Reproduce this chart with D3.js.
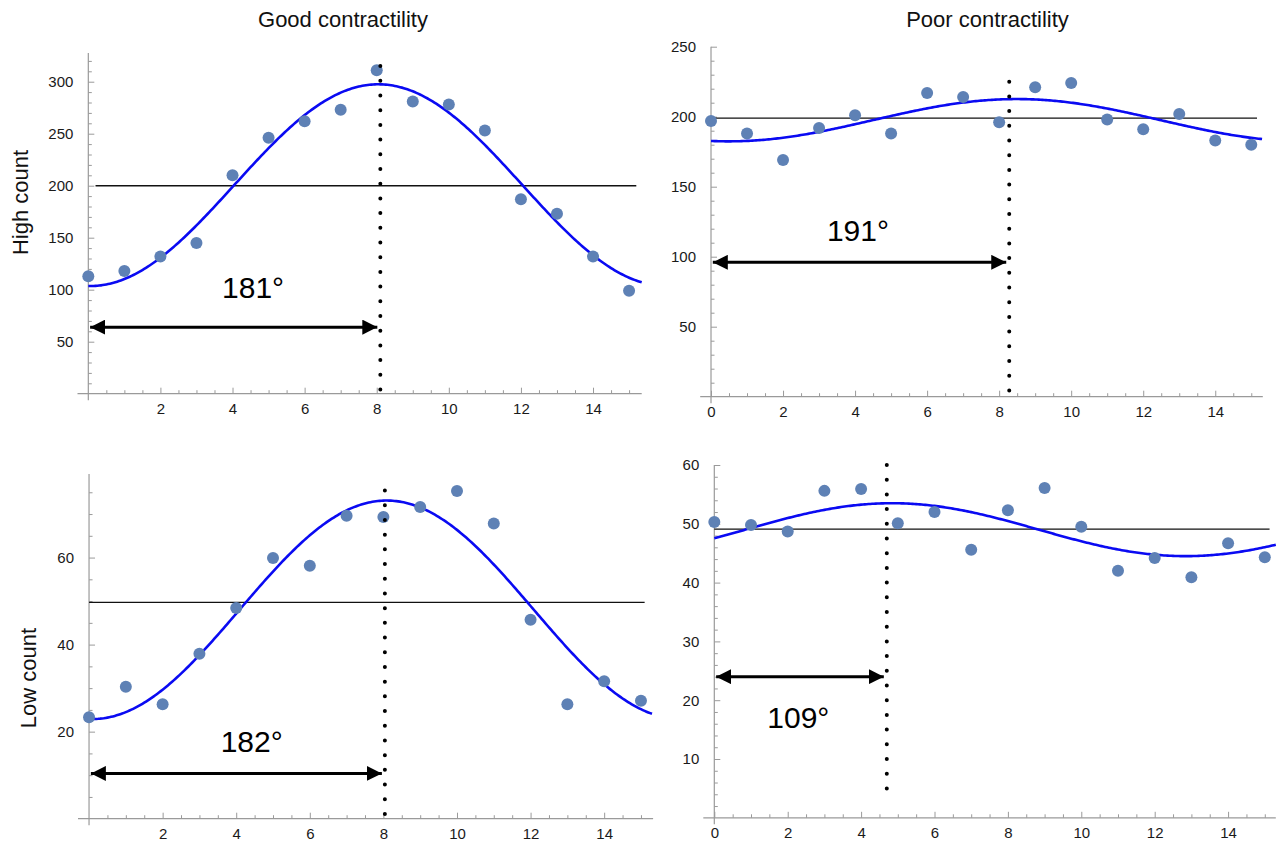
<!DOCTYPE html>
<html>
<head>
<meta charset="utf-8">
<script src="https://cdn.jsdelivr.net/npm/d3@7"></script>
<style>
  html, body { margin: 0; padding: 0; background: #fff; }
  svg { display: block; font-family: "Liberation Sans", Arial, Helvetica, sans-serif; }
</style>
</head>
<body>
<div id="container"></div>
<script>
/* DATA */
const timePoints = [0, 1, 2, 3, 4, 5, 6, 7, 8, 9, 10, 11, 12, 13, 14, 15];

const goodHigh = [113, 118, 132, 145, 210, 246, 262, 273, 311, 281, 278, 253, 187, 173, 132, 99];
const poorHigh = [197, 188, 169, 192, 201, 188, 217, 214, 196, 221, 224, 198, 191, 202, 183, 180];
const goodLow  = [23.3, 30.3, 26.3, 37.9, 48.4, 59.9, 58.1, 69.6, 69.3, 71.6, 75.3, 67.8, 45.7, 26.3, 31.6, 27.1];
const poorLow  = [50.3, 49.8, 48.7, 55.6, 55.9, 50.1, 52.0, 45.6, 52.3, 56.1, 49.5, 42.0, 44.2, 40.9, 46.7, 44.3];

// cosine fit per panel: mesor, amplitude, acrophase (degrees, 16 points = 360°)
const fitMesor = [200.5, 197.5, 48, 49];
const fitAmp   = [97, 15.1, 25.1, 4.5];
const phaseDeg = [181, 191, 182, 109];

// horizontal mean line, dotted peak marker, arrow height
const meanLevel = [200, 199, 49.7, 49.1];
const peakMark  = [8.1, 8.28, 8.04, 4.70];
const peakTop   = [315, 225, 75.4, 60];
const peakBottom = [0, 0, 0, 2.6];
const arrowLevel = [64, 96, 10.4, 24];
const labelPos = [[4.57, 92], [4.08, 111], [4.42, 15.4], [2.29, 15.2]];

// tick labels
const xMajorLeft  = [2, 4, 6, 8, 10, 12, 14];
const xMajorRight = [0, 2, 4, 6, 8, 10, 12, 14];
const yMajorGoodHigh = [50, 100, 150, 200, 250, 300];
const yMajorPoorHigh = [50, 100, 150, 200, 250];
const yMajorGoodLow  = [20, 40, 60];
const yMajorPoorLow  = [10, 20, 30, 40, 50, 60];

const colTitles = ["Good contractility", "Poor contractility"];
const rowTitles = ["High count", "Low count"];

/* LAYOUT */
const width = 1277, height = 843;
const period = 16;

const panels = [
  { values: goodHigh, xMajor: xMajorLeft,  yMajor: yMajorGoodHigh, yMinorStep: 10, yMax: 327.6,
    xRange: [77.5, 641.7], yRange: [393.7, 53], xMax: 15.35, meanEnd: 15.2, meanStart: 0.2 },
  { values: poorHigh, xMajor: xMajorRight, yMajor: yMajorPoorHigh, yMinorStep: 10, yMax: 250,
    xRange: [700.2, 1262.8], yRange: [396.7, 46.7], xMax: 15.32, meanEnd: 15.16, meanStart: 0 },
  { values: goodLow,  xMajor: xMajorLeft,  yMajor: yMajorGoodLow,  yMinorStep: 5, yMax: 79.2,
    xRange: [78, 653.1], yRange: [818.7, 474], xMax: 15.33, meanEnd: 15.1, meanStart: 0 },
  { values: poorLow,  xMajor: xMajorRight, yMajor: yMajorPoorLow,  yMinorStep: 2, yMax: 60,
    xRange: [703.3, 1275.8], yRange: [817.8, 465], xMax: 15.3, meanEnd: 15.13, meanStart: 0 }
];

const svg = d3.select("#container")
  .append("svg")
  .attr("width", width)
  .attr("height", height);

svg.append("rect").attr("width", width).attr("height", height).attr("fill", "#fff");

// arrow heads
const defs = svg.append("defs");
defs.append("marker")
    .attr("id", "head")
    .attr("viewBox", "0 0 10 10")
    .attr("refX", 10).attr("refY", 5)
    .attr("markerWidth", 5).attr("markerHeight", 5)
    .attr("markerUnits", "strokeWidth")
    .attr("orient", "auto-start-reverse")
  .append("path")
    .attr("d", "M0,0L10,5L0,10Z")
    .attr("fill", "#000");

/* DRAW ONE PANEL */
const drawPanel = (p, i) => {
  const g = svg.append("g");
  const x = d3.scaleLinear().domain([-0.3, p.xMax]).range(p.xRange);
  const y = d3.scaleLinear().domain([0, p.yMax]).range(p.yRange);

  const axisColor = "#9a9a9a";

  // minor x ticks
  const xMinor = d3.range(1, 31).map(d => d / 2).filter(d => !p.xMajor.includes(d));
  g.append("g")
    .attr("transform", `translate(0,${y(0)})`)
    .call(d3.axisBottom(x).tickValues(xMinor).tickSize(-3.5).tickFormat(""))
    .call(a => a.select(".domain").remove())
    .call(a => a.selectAll("line").attr("stroke", axisColor));

  // major x ticks
  g.append("g")
    .attr("transform", `translate(0,${y(0)})`)
    .call(d3.axisBottom(x).tickValues(p.xMajor).tickSize(-6).tickPadding(10).tickFormat(d3.format("d")))
    .call(a => a.select(".domain").remove())
    .call(a => a.selectAll("line").attr("stroke", axisColor))
    .call(a => a.selectAll("text").attr("font-size", 15).attr("fill", "#1a1a1a")
      .attr("font-family", "'Liberation Sans', Arial, sans-serif"));

  // minor y ticks
  const yMinor = d3.range(p.yMinorStep, p.yMax, p.yMinorStep).filter(d => !p.yMajor.includes(d));
  g.append("g")
    .attr("transform", `translate(${x(0)},0)`)
    .call(d3.axisLeft(y).tickValues(yMinor).tickSize(-3.5).tickFormat(""))
    .call(a => a.select(".domain").remove())
    .call(a => a.selectAll("line").attr("stroke", axisColor));

  // major y ticks
  g.append("g")
    .attr("transform", `translate(${x(0)},0)`)
    .call(d3.axisLeft(y).tickValues(p.yMajor).tickSize(-6).tickPadding(15).tickFormat(d3.format("d")))
    .call(a => a.select(".domain").remove())
    .call(a => a.selectAll("line").attr("stroke", axisColor))
    .call(a => a.selectAll("text").attr("font-size", 15).attr("fill", "#1a1a1a")
      .attr("font-family", "'Liberation Sans', Arial, sans-serif"));

  // axis lines
  g.append("line")
    .attr("x1", x(-0.3)).attr("x2", x(p.xMax))
    .attr("y1", y(0)).attr("y2", y(0))
    .attr("stroke", axisColor).attr("stroke-width", 1.2);
  g.append("line")
    .attr("x1", x(0)).attr("x2", x(0))
    .attr("y1", y(p.yMax)).attr("y2", y(0) + 6.5)
    .attr("stroke", axisColor).attr("stroke-width", 1.2);

  // mean line
  g.append("line")
    .attr("x1", x(p.meanStart)).attr("x2", x(p.meanEnd))
    .attr("y1", y(meanLevel[i])).attr("y2", y(meanLevel[i]))
    .attr("stroke", "#111").attr("stroke-width", 1.4);

  // fitted cosine
  const peakX = phaseDeg[i] / 360 * period;
  const fit = d3.range(0, p.xMax + 0.001, 0.05)
    .map(t => [t, fitMesor[i] + fitAmp[i] * Math.cos(2 * Math.PI * (t - peakX) / period)]);
  g.append("path")
    .datum(fit)
    .attr("fill", "none")
    .attr("stroke", "#0a0af2")
    .attr("stroke-width", 2.6)
    .attr("d", d3.line().x(d => x(d[0])).y(d => y(d[1])));

  // data points
  g.selectAll("circle")
    .data(p.values)
    .join("circle")
    .attr("cx", (d, k) => x(timePoints[k]))
    .attr("cy", d => y(d))
    .attr("r", 6)
    .attr("fill", "#5E81B5");

  // dotted peak marker
  g.append("line")
    .attr("x1", x(peakMark[i])).attr("x2", x(peakMark[i]))
    .attr("y1", y(peakTop[i])).attr("y2", y(peakBottom[i]))
    .attr("stroke", "#000")
    .attr("stroke-width", 4)
    .attr("stroke-linecap", "round")
    .attr("stroke-dasharray", "0,14.7");

  // double arrow
  g.append("line")
    .attr("x1", x(0.05)).attr("x2", x(peakMark[i]) - 3)
    .attr("y1", y(arrowLevel[i])).attr("y2", y(arrowLevel[i]))
    .attr("stroke", "#000")
    .attr("stroke-width", 3)
    .attr("marker-start", "url(#head)")
    .attr("marker-end", "url(#head)");

  // phase label
  g.append("text")
    .attr("x", x(labelPos[i][0]))
    .attr("y", y(labelPos[i][1]))
    .attr("text-anchor", "middle")
    .attr("font-size", 30)
    .attr("fill", "#000")
    .text(phaseDeg[i] + "°");
};

panels.forEach(drawPanel);

/* TITLES */
svg.selectAll(".colTitle")
  .data(colTitles)
  .join("text")
  .attr("class", "colTitle")
  .attr("x", (d, k) => k === 0 ? 343 : 987.5)
  .attr("y", 27)
  .attr("text-anchor", "middle")
  .attr("font-size", 22)
  .attr("fill", "#111")
  .text(d => d);

svg.selectAll(".rowTitle")
  .data(rowTitles)
  .join("text")
  .attr("class", "rowTitle")
  .attr("transform", (d, k) => k === 0 ? "translate(28,202.5) rotate(-90)" : "translate(36,678) rotate(-90)")
  .attr("text-anchor", "middle")
  .attr("font-size", 22)
  .attr("fill", "#111")
  .text(d => d);
</script>
</body>
</html>
